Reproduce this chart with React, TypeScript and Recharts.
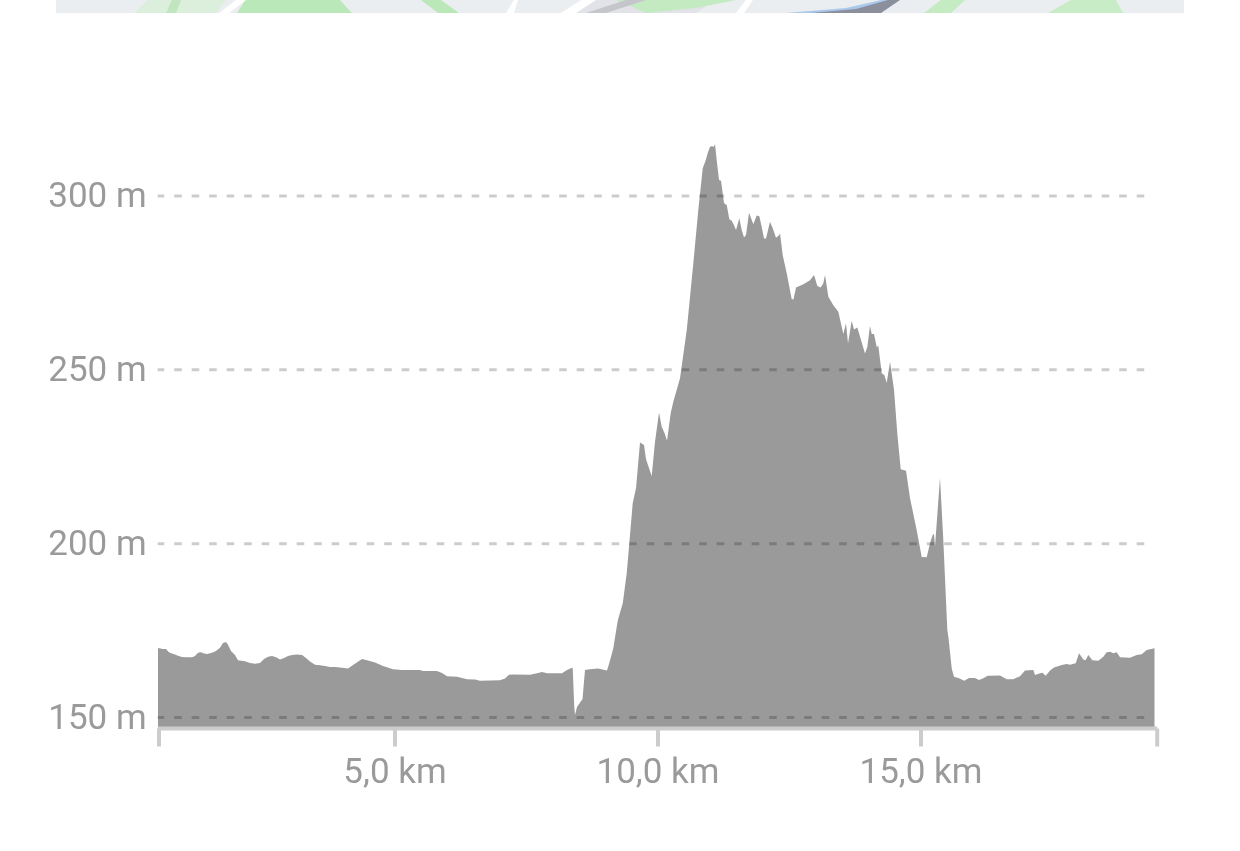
import React from 'react';
import { AreaChart, Area, XAxis, YAxis, ReferenceLine } from 'recharts';

// distance along the route, km
const distanceKm = [
  0.494, 0.589, 0.646, 0.703, 0.76, 0.817, 0.874, 0.95, 1.027, 1.141, 1.198, 1.255, 1.312, 1.369, 1.426, 1.521,
  1.597, 1.673, 1.73, 1.787, 1.825, 1.882, 1.958, 2.015, 2.148, 2.243, 2.338, 2.433, 2.51, 2.586, 2.662, 2.738,
  2.814, 2.89, 2.966, 3.042, 3.137, 3.232, 3.308, 3.384, 3.479, 3.574, 3.669, 3.764, 3.859, 3.954, 4.106, 4.202,
  4.373, 4.468, 4.62, 4.772, 4.962, 5.133, 5.475, 5.532, 5.798, 5.894, 5.989, 6.179, 6.369, 6.521, 6.616, 6.996,
  7.091, 7.167, 7.243, 7.567, 7.7, 7.795, 7.89, 8.175, 8.27, 8.378, 8.407, 8.422, 8.46, 8.565, 8.612, 8.707,
  8.859, 9.03, 9.074, 9.15, 9.226, 9.245, 9.329, 9.405, 9.454, 9.519, 9.582, 9.658, 9.734, 9.772, 9.88, 9.943,
  10.019, 10.07, 10.127, 10.171, 10.241, 10.291, 10.418, 10.546, 10.671, 10.766, 10.85, 10.907, 10.945, 10.989,
  11.032, 11.051, 11.084, 11.116, 11.16, 11.198, 11.255, 11.306, 11.356, 11.401, 11.445, 11.483, 11.546, 11.591,
  11.635, 11.673, 11.73, 11.812, 11.876, 11.926, 11.971, 12.015, 12.053, 12.129, 12.181, 12.243, 12.306, 12.319,
  12.371, 12.447, 12.542, 12.576, 12.624, 12.762, 12.89, 12.966, 13.029, 13.093, 13.143, 13.175, 13.238, 13.333,
  13.428, 13.523, 13.574, 13.612, 13.682, 13.726, 13.789, 13.935, 13.979, 14.03, 14.063, 14.106, 14.158, 14.188,
  14.253, 14.302, 14.348, 14.411, 14.487, 14.549, 14.614, 14.715, 14.791, 14.918, 15.013, 15.108, 15.171, 15.222,
  15.247, 15.266, 15.361, 15.424, 15.5, 15.519, 15.584, 15.627, 15.722, 15.823, 15.913, 16.027, 16.103, 16.184,
  16.268, 16.502, 16.629, 16.755, 16.882, 16.977, 17.135, 17.167, 17.262, 17.306, 17.371, 17.453, 17.529, 17.675,
  17.77, 17.833, 17.941, 18.004, 18.086, 18.127, 18.181, 18.257, 18.371, 18.466, 18.53, 18.593, 18.656, 18.72,
  18.783, 18.973, 19.101, 19.196, 19.291, 19.354, 19.439,
];

// elevation at each distance, m
const elevationM = [
  170.0, 169.7, 169.7, 168.8, 168.4, 168.1, 167.8, 167.4, 167.3, 167.3, 167.7, 168.6, 168.8, 168.4, 168.3, 168.6,
  169.1, 170.1, 171.4, 171.7, 170.9, 169.1, 168.0, 166.5, 166.2, 165.7, 165.5, 165.7, 166.8, 167.5, 167.7, 167.3,
  166.7, 167.1, 167.7, 168.0, 168.1, 168.0, 167.1, 166.1, 165.2, 165.0, 164.8, 164.5, 164.5, 164.4, 164.1, 165.1,
  166.8, 166.5, 165.8, 164.8, 163.9, 163.7, 163.7, 163.4, 163.4, 162.8, 161.9, 161.7, 161.0, 160.9, 160.6, 160.7,
  161.2, 162.3, 162.4, 162.3, 162.7, 163.1, 162.7, 162.7, 163.7, 164.4, 153.3, 150.7, 153.0, 155.3, 163.7, 163.9,
  164.1, 163.5, 165.7, 169.9, 177.1, 178.5, 182.8, 191.5, 200.1, 211.6, 216.0, 229.1, 228.4, 224.3, 219.5, 229.3,
  237.7, 233.6, 231.7, 229.6, 237.5, 240.8, 247.6, 261.4, 280.6, 296.0, 308.0, 310.3, 312.4, 314.2,
  314.4, 314.0, 314.9, 310.3, 304.6, 304.4, 297.9, 297.4, 293.3, 292.9, 291.6, 290.2, 293.6, 290.2,
  288.1, 288.8, 295.2, 291.9, 294.4, 294.2, 291.2, 287.8, 287.8, 292.6, 290.7, 288.0, 288.8, 289.4,
  283.0, 277.8, 270.3, 270.3, 273.7, 274.6, 275.8, 277.3, 274.1, 273.7, 274.9, 277.3, 271.0, 268.6,
  266.7, 260.3, 263.4, 257.6, 264.1, 261.6, 262.2, 254.7, 256.6, 262.6, 260.3, 260.3, 256.5, 256.9,
  249.0, 248.5, 246.3, 252.3, 244.2, 231.7, 221.4, 221.0, 213.1, 203.9, 196.2, 196.1, 200.1, 202.5,
  202.8, 199.1, 219.0, 201.0, 175.2, 173.4, 164.1, 161.7, 161.3, 160.6, 161.4, 161.4, 160.8, 161.3,
  162.0, 162.1, 161.0, 161.0, 161.9, 163.5, 163.7, 162.2, 162.7, 162.9, 162.0, 163.5, 164.4, 165.1,
  165.4, 165.2, 165.6, 168.5, 166.7, 166.5, 168.0, 166.5, 166.3, 167.5, 168.8, 168.9, 168.5, 168.8,
  167.3, 167.2, 168.0, 168.2, 169.4, 169.6, 169.9,
];

const distanceTicks = [0.513, 5, 10, 15, 19.49];
const elevationTicks = [150, 200, 250, 300];

const chartData = distanceKm.map((km, i) => ({ km, elevation: elevationM[i] }));

const formatKm = (v: number) => ([5, 10, 15].includes(v) ? `${v.toFixed(1).replace('.', ',')} km` : '');
const formatM = (v: number) => `${v} m`;

const tickStyle = { fill: '#9a9a9a', fontFamily: 'Roboto', fontSize: 35 };
const axisStroke = { stroke: '#cccccc', strokeWidth: 4 };

// the bottom edge of the map that sits above the chart
const MapStrip = () => (
  <svg width={1128} height={13} style={{ position: 'absolute', left: 56, top: 0 }}>
    <rect width={1128} height={13} fill="#ebeef0" />
    <polygon points="78,13 92,0 170,0 160,13" fill="#dcefdc" />
    <polygon points="110,13 116,0 125,0 120,13" fill="#bfe6bd" />
    <polygon points="181,13 189,0 284,0 296,13" fill="#bbe8b9" />
    <polygon points="365,0 385,0 403,13 382,13" fill="#bbe8b9" />
    <polygon points="525,0 660,0 640,13 510,13" fill="#e1e3e8" />
    <polygon points="560,0 680,0 640,8 590,13" fill="#c4eac2" />
    <polygon points="163,13 173,13 190,0 180,0" fill="#ffffff" />
    <polygon points="450,13 458,0 462,0 458,13" fill="#ffffff" />
    <polygon points="505,13 525,0 540,0 520,13" fill="#ffffff" />
    <polygon points="530,13 570,0 590,0 550,13" fill="#c4c6cc" />
    <polygon points="680,13 690,0 697,0 688,13" fill="#ffffff" />
    <polygon points="730,13 790,8 825,0 840,0 820,13" fill="#aac8ea" />
    <polygon points="755,13 800,9 832,0 844,0 825,13" fill="#8b8f9c" />
    <polygon points="868,13 885,0 909,0 895,13" fill="#c4ebc2" />
    <polygon points="992,13 1015,0 1060,0 1067,13" fill="#c8ecc6" />
  </svg>
);

export default function App() {
  return (
    <div style={{ position: 'absolute', left: 0, top: 0, width: 1240, height: 851, willChange: 'transform' }}>
      <MapStrip />
      <AreaChart
        width={1240}
        height={851}
        data={chartData}
        margin={{ top: 126.5, right: 82.8, bottom: 62.5, left: 0 }}
      >
        <XAxis
          dataKey="km"
          type="number"
          domain={[0.488, 19.49]}
          ticks={distanceTicks}
          tickFormatter={formatKm}
          interval={0}
          height={60}
          allowDataOverflow
          axisLine={axisStroke}
          tickLine={axisStroke}
          tickSize={18}
          tickMargin={12}
          tick={tickStyle}
        />
        <YAxis
          type="number"
          domain={[146.84, 320]}
          ticks={elevationTicks}
          tickFormatter={formatM}
          interval={0}
          width={157.67}
          allowDataOverflow
          axisLine={false}
          tickLine={false}
          tickSize={0}
          tickMargin={11}
          tick={{ ...tickStyle, dy: -1 }}
        />
        <Area
          dataKey="elevation"
          type="linear"
          stroke="none"
          fill="#9a9a9a"
          fillOpacity={1}
          isAnimationActive={false}
        />
        {elevationTicks.map((m) => (
          <ReferenceLine
            key={m}
            segment={[
              { x: 0.488, y: m },
              { x: 19.25, y: m },
            ]}
            stroke="rgba(0,0,0,0.2)"
            strokeWidth={3}
            strokeDasharray="7.6 9.9"
            strokeDashoffset={1}
          />
        ))}
      </AreaChart>
    </div>
  );
}
